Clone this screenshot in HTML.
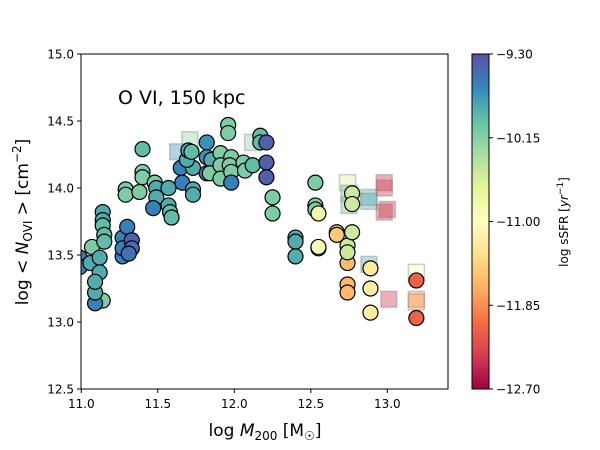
<!DOCTYPE html>
<html><head><meta charset="utf-8"><style>
html,body{margin:0;padding:0;background:#fff;}
svg{display:block;font-family:"DejaVu Sans","Liberation Sans",sans-serif;}
</style></head><body>
<svg id="chart" width="600" height="450" viewBox="0 0 600 450">
<defs>
<linearGradient id="cbgrad" x1="0" y1="1" x2="0" y2="0">
<stop offset="0" stop-color="#9e0142"/><stop offset="0.1" stop-color="#d53e4f"/><stop offset="0.2" stop-color="#f46d43"/><stop offset="0.3" stop-color="#fdae61"/><stop offset="0.4" stop-color="#fee08b"/><stop offset="0.5" stop-color="#ffffbf"/><stop offset="0.6" stop-color="#e6f598"/><stop offset="0.7" stop-color="#abdda4"/><stop offset="0.8" stop-color="#66c2a5"/><stop offset="0.9" stop-color="#3288bd"/><stop offset="1" stop-color="#5e4fa2"/>
</linearGradient>
<clipPath id="plotclip"><rect x="81" y="54" width="367" height="335"/></clipPath>
</defs>
<g id="marks" clip-path="url(#plotclip)"></g>
<rect x="81" y="54" width="367" height="335" fill="none" stroke="#000" stroke-width="1"/>
<g id="xticks"></g>
<g id="yticks"></g>
<text x="118" y="104" font-size="19">O VI, 150 kpc</text>
<text x="265" y="436" font-size="17" text-anchor="middle">log <tspan font-style="italic">M</tspan><tspan font-size="12" dy="4">200</tspan><tspan dy="-4"> [M</tspan><tspan font-size="12" dy="4">☉</tspan><tspan dy="-4">]</tspan></text>
<text transform="translate(28,222) rotate(-90)" font-size="17" text-anchor="middle">log &lt; <tspan font-style="italic">N</tspan><tspan font-size="12" dy="4">OVI</tspan><tspan dy="-4"> &gt;  [cm</tspan><tspan font-size="12" dy="-7">−2</tspan><tspan dy="7">]</tspan></text>
<rect x="472" y="54" width="17" height="335" fill="url(#cbgrad)" stroke="#000" stroke-width="1"/>
<g id="cbticks"></g>
<text transform="translate(568,222) rotate(-90)" font-size="12" text-anchor="middle">log sSFR [<tspan font-style="italic">yr</tspan><tspan font-size="9" dy="-5">−1</tspan><tspan dy="5">]</tspan></text>
</svg>
<script>
const circX=[10.99,10.99,11.07,11.06,11.12,11.12,11.14,11.09,11.09,11.09,11.14,11.14,11.14,11.15,11.15,11.27,11.30,11.27,11.27,11.33,11.33,11.31,11.29,11.29,11.38,11.40,11.40,11.40,11.48,11.49,11.49,11.47,11.57,11.57,11.58,11.59,11.66,11.73,11.73,11.65,11.73,11.69,11.70,11.72,11.82,11.82,11.85,11.82,11.91,11.84,11.91,11.91,11.98,11.97,11.98,11.98,11.96,11.96,12.06,12.07,12.12,12.17,12.17,12.21,12.21,12.21,12.25,12.25,12.40,12.40,12.40,12.53,12.53,12.53,12.55,12.55,12.55,12.67,12.67,12.74,12.74,12.74,12.74,12.74,12.77,12.77,12.77,12.89,12.89,12.89,13.19,13.19];
const circY=[13.48,13.41,13.56,13.44,13.48,13.37,13.16,13.14,13.22,13.30,13.82,13.76,13.72,13.65,13.60,13.63,13.71,13.49,13.55,13.61,13.55,13.51,13.99,13.95,13.97,14.12,14.08,14.29,14.04,14.00,13.93,13.85,14.00,13.87,13.82,13.78,14.04,13.99,13.95,14.15,14.15,14.21,14.28,14.27,14.34,14.23,14.21,14.11,14.26,14.11,14.17,14.07,14.23,14.17,14.12,14.04,14.47,14.41,14.19,14.13,14.17,14.39,14.34,14.34,14.19,14.08,13.93,13.81,13.63,13.60,13.49,14.04,13.87,13.84,13.81,13.55,13.56,13.67,13.65,13.44,13.28,13.22,13.57,13.52,13.96,13.88,13.67,13.40,13.25,13.07,13.31,13.03];
const circS=[-9.5,-9.6,-10.1,-9.85,-9.85,-9.85,-10.1,-9.6,-9.85,-9.85,-9.85,-9.85,-9.95,-9.95,-9.95,-9.6,-9.6,-9.6,-9.6,-9.4,-9.45,-9.5,-10.1,-10.1,-10.1,-10.1,-10.1,-9.95,-10.1,-9.85,-9.85,-9.6,-9.85,-9.85,-9.95,-9.95,-9.6,-9.85,-9.85,-9.6,-9.85,-9.85,-9.85,-9.95,-9.7,-9.7,-9.85,-9.6,-10.1,-10.1,-10.1,-10.1,-10.1,-10.1,-10.1,-9.6,-10.1,-10.1,-10.1,-10.1,-9.95,-9.95,-9.95,-9.4,-9.4,-9.4,-10.1,-10.1,-9.85,-9.85,-9.85,-10.1,-10.1,-10.1,-10.8,-10.9,-10.9,-11.5,-11.5,-11.6,-11.6,-11.6,-10.5,-10.5,-10.5,-10.5,-10.5,-11.2,-11.2,-11.2,-12.1,-12.1];
const sqX=[11.63,11.71,12.12,12.74,12.75,12.75,12.88,12.88,12.88,12.98,12.98,13.00,12.98,13.01,13.19,13.19,13.19];
const sqY=[14.27,14.36,14.34,14.04,13.96,13.87,13.93,13.90,13.43,14.04,14.00,13.84,13.82,13.17,13.37,13.17,13.15];
const sqS=[-9.7,-10.2,-10.2,-10.6,-10.0,-10.0,-9.85,-9.85,-9.85,-12.4,-12.4,-12.4,-12.4,-12.4,-10.9,-11.8,-11.8];
const xTicks=[11.0,11.5,12.0,12.5,13.0];
const yTicks=[12.5,13.0,13.5,14.0,14.5,15.0];
const cbTicks=[-9.30,-10.15,-11.00,-11.85,-12.70];

const NS="http://www.w3.org/2000/svg";
function xs(v){return 81.3+(v-11.0)*153;}
function ys(v){return 389-(v-12.5)*134;}
function cbY(v){return 389-(v+12.7)/3.4*335;}
const stops=["#9e0142","#d53e4f","#f46d43","#fdae61","#fee08b","#ffffbf","#e6f598","#abdda4","#66c2a5","#3288bd","#5e4fa2"].map(h=>[parseInt(h.substr(1,2),16),parseInt(h.substr(3,2),16),parseInt(h.substr(5,2),16)]);
function cmap(s){let t=(s+12.7)/3.4;t=Math.max(0,Math.min(1,t));const p=t*10,i=Math.min(9,Math.floor(p)),f=p-i;const a=stops[i],b=stops[i+1];return "rgb("+a.map((c,k)=>Math.round(c+(b[k]-c)*f)).join(",")+")";}
function mk(tag,attrs,parent){const e=document.createElementNS(NS,tag);for(const k in attrs)e.setAttribute(k,attrs[k]);parent.appendChild(e);return e;}
const marks=document.getElementById("marks");
for(let i=0;i<sqX.length;i++){
  const r=mk("rect",{x:xs(sqX[i])-8,y:ys(sqY[i])-8,width:16,height:16,fill:cmap(sqS[i]),"fill-opacity":0.4,stroke:"#888","stroke-opacity":0.4,"stroke-width":1.5},marks);
  
  
}
for(let i=0;i<circX.length;i++){
  const c=mk("circle",{cx:xs(circX[i]),cy:ys(circY[i]),r:7.5,fill:cmap(circS[i]),stroke:"#000","stroke-width":1.2},marks);
  
  
}
const xg=document.getElementById("xticks");
xTicks.forEach(v=>{const x=xs(v);
  const l=mk("line",{x1:x,x2:x,y1:389,y2:393,stroke:"#000"},xg);
  
  
  const t=mk("text",{x:x,y:408,"font-size":12,"text-anchor":"middle"},xg);t.textContent=v.toFixed(1);
  
  
});
const yg=document.getElementById("yticks");
yTicks.forEach(v=>{const y=ys(v);
  const l=mk("line",{x1:77,x2:81,y1:y,y2:y,stroke:"#000"},yg);
  
  
  const t=mk("text",{x:74,y:y+4.5,"font-size":12,"text-anchor":"end"},yg);t.textContent=v.toFixed(1);
  
  
});
const cg=document.getElementById("cbticks");
cbTicks.forEach(v=>{const y=cbY(v);
  const l=mk("line",{x1:489,x2:493,y1:y,y2:y,stroke:"#000"},cg);
  
  
  const t=mk("text",{x:496,y:y+4.5,"font-size":12},cg);t.textContent=(v<0?"−":"")+Math.abs(v).toFixed(2);
  
  
});
</script>
</body></html>
